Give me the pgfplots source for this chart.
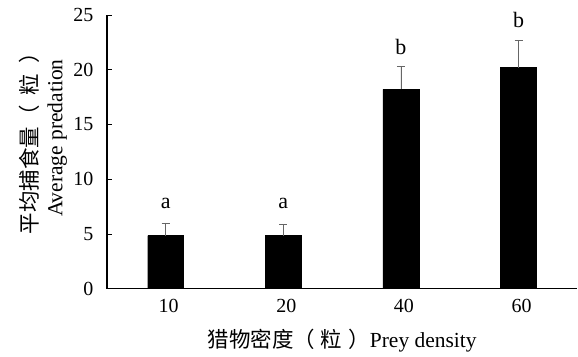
\documentclass[border=0pt]{standalone}
\usepackage{pgfplots}
\pgfplotsset{compat=1.18}
\usepackage{fontspec}
\setmainfont{Liberation Serif}
\newfontfamily\cjk{Noto Sans CJK SC}
\begin{document}
\begin{tikzpicture}
\begin{axis}[
  scale only axis,
  width=471pt, height=274pt,
  xmin=-0.5, xmax=3.5,
  ymin=0, ymax=25,
  axis x line*=bottom, axis y line*=left,
  axis line style={line width=1.3pt, black},
  xtick={0,1,2,3},
  xticklabels={10,20,40,60},
  major x tick style={draw=none},
  extra x ticks={0.5,1.5,2.5},
  extra x tick labels={},
  extra x tick style={tick style={line width=0.8pt, black}, major tick length=5pt},
  ytick={0,5,10,15,20,25},
  tick align=inside,
  major tick length=5pt,
  tick style={line width=0.8pt, black},
  /pgf/number format/assume math mode=true,
  tick label style={font=\fontsize{20}{23}\selectfont},
  xticklabel style={yshift=-7pt, xshift=3pt},
  yticklabel style={xshift=-10pt},
  xlabel={{\cjk 猎物密度（\hspace{6pt}粒\hspace{6pt}）}Prey density},
  xlabel style={font=\fontsize{21.5}{24}\selectfont, at={(axis description cs:0.5,-0.19)}, anchor=center},
  ylabel={{\cjk 平均捕食量（\hspace{10pt}粒\hspace{10pt}）}\\Average predation},
  ylabel style={font=\fontsize{21.5}{25}\selectfont, align=center, at={(axis description cs:-0.136,0.55)}, anchor=center},
  clip=false,
]
\addplot[ybar, bar width=36pt, fill=black, draw=black,
  error bars/.cd, y dir=plus, y explicit,
  error bar style={gray!80!black, line width=0.8pt},
  error mark options={rotate=90, gray!80!black, mark size=4pt, line width=0.8pt}]
  coordinates {(0,4.84) +- (0,1.16) (1,4.84) +- (0,1.06) (2,18.2) +- (0,2.1) (3,20.2) +- (0,2.5)};
\addplot[draw=none, mark=none, nodes near coords, point meta=explicit symbolic,
  nodes near coords style={anchor=center, font=\fontsize{22}{24}\selectfont, text=black}]
  coordinates {(0,7.8)[a] (1,7.8)[a] (2,22.1)[b] (3,24.5)[b]};
\end{axis}
\path (current axis.south west) ++(-107pt,-68pt) rectangle ++(578pt,357pt);
\end{tikzpicture}
\end{document}
